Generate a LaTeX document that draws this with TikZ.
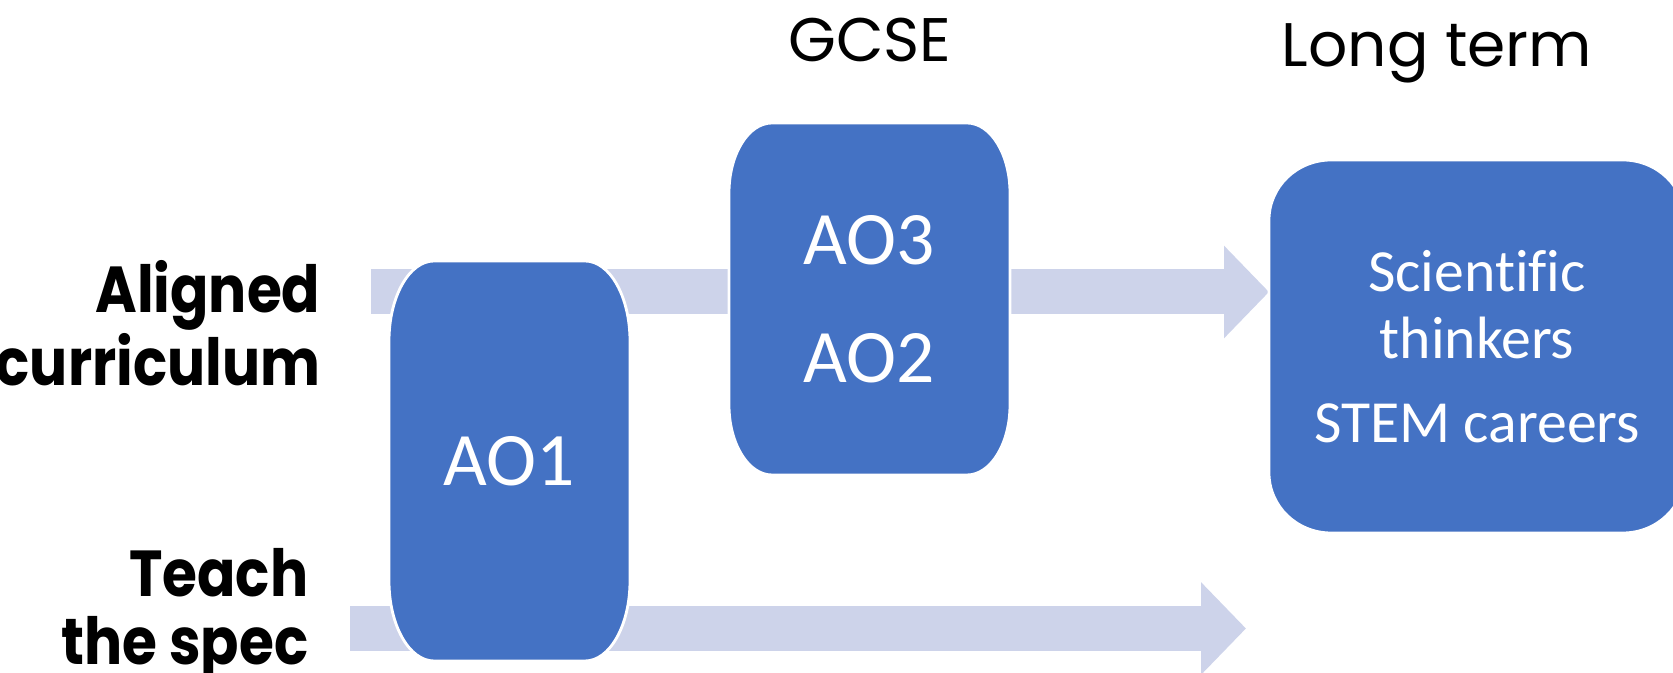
\documentclass[tikz,border=0pt]{standalone}
\usepackage{fontspec}
\setmainfont{Carlito}[Ligatures=CommonOff]
\newfontfamily\gothic{Poppins}
\newfontfamily\gothicnarrow{Poppins}[FakeStretch=0.87]
\usetikzlibrary{arrows.meta, calc}

\definecolor{aoblue}{HTML}{4472C4}
\definecolor{flowband}{HTML}{CDD3EA}

\pgfdeclarelayer{bands}
\pgfdeclarelayer{boxes}
\pgfsetlayers{bands,boxes,main}

% blue box with oval corners, laid behind a named node
\newcommand{\ovalfill}[3]{%
  \begin{pgfonlayer}{boxes}
    \filldraw[fill=aoblue, draw=white, line width=0.8pt]
      ($(#1.north west)+(#2,0)$) -- ($(#1.north east)+(-#2,0)$)
      arc[start angle=90, end angle=0, x radius=#2, y radius=#3]
      -- ($(#1.south east)+(0,#3)$)
      arc[start angle=0, end angle=-90, x radius=#2, y radius=#3]
      -- ($(#1.south west)+(#2,0)$)
      arc[start angle=270, end angle=180, x radius=#2, y radius=#3]
      -- ($(#1.north west)+(0,-#3)$)
      arc[start angle=180, end angle=90, x radius=#2, y radius=#3] -- cycle;
  \end{pgfonlayer}}

\begin{document}
\begin{tikzpicture}[
    aobox/.style={rectangle, inner sep=0pt, outer sep=0pt, text=white, align=center},
    heading/.style={font=\gothic\fontsize{17.5}{21}\selectfont, anchor=base},
    strand/.style={font=\gothicnarrow\bfseries\fontsize{18.5}{19.6}\selectfont, align=right, anchor=base east, inner sep=0pt},
    bigarrow/.style={draw=flowband, line width=0.45cm, -{Triangle[length=0.45cm, width=0.9cm]}}]

  \useasboundingbox (0,0) rectangle (16.73,6.73);

  % column headings
  \node[heading] (gcse) at (8.70,6.11) {GCSE};
  \node[heading] (longterm) at (14.37,6.065) {Long term};

  % strand labels
  \node[strand] (aligned) at (3.21,2.87) {Aligned\\curriculum};
  \node[strand] (teach) at (3.09,0.08) {Teach\\the spec};

  % assessment boxes
  \node[aobox, minimum width=2.41cm, minimum height=4.0cm, font=\fontsize{21.5}{26}\selectfont] (ao1) at (5.095,2.12) {AO1};
  \node[aobox, minimum width=2.81cm, minimum height=3.52cm, font=\fontsize{21.5}{33.6}\selectfont] (ao32) at (8.695,3.74) {AO3\\AO2};
  \node[aobox, minimum width=4.16cm, minimum height=3.73cm, font=\fontsize{17}{19}\selectfont] (longbox) at (14.77,3.265) {Scientific\\thinkers\\[4.9pt]STEM careers};
  \ovalfill{ao1}{0.45}{0.8}
  \ovalfill{ao32}{0.43}{0.7}
  \ovalfill{longbox}{0.62}{0.6}

  % flow arrows
  \coordinate (top0) at (3.71,3.81);
  \coordinate (bot0) at (3.50,0.445);
  \coordinate (bot1) at (12.46,0.445);
  \begin{pgfonlayer}{bands}
    \draw[bigarrow] (top0) -- (top0 -| longbox.west);
    \draw[bigarrow] (bot0) -- (bot1);
  \end{pgfonlayer}
\end{tikzpicture}
\end{document}
